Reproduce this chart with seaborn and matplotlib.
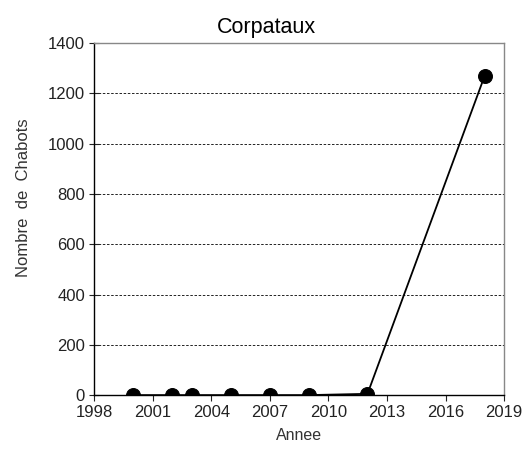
import matplotlib
matplotlib.use("Agg")
import matplotlib.pyplot as plt
import seaborn as sns
import pandas as pd

years = [2000, 2002, 2003, 2005, 2007, 2009, 2012, 2018]
counts = [0, 0, 0, 0, 0, 0, 5, 1270]
x_ticks = [1998, 2001, 2004, 2007, 2010, 2013, 2016, 2019]
y_ticks = [0, 200, 400, 600, 800, 1000, 1200, 1400]

sns.set_theme(style="white")
plt.rcParams['font.family'] = ['Liberation Sans', 'DejaVu Sans']

df = pd.DataFrame({"Annee": years, "Chabots": counts})

fig = plt.figure(figsize=(5.23, 4.5), dpi=100)
ax = fig.add_axes([0.18, 0.122, 0.784, 0.782])

sns.lineplot(data=df, x="Annee", y="Chabots", ax=ax, color="black",
             linewidth=1.3, marker="o", markersize=10, markeredgecolor="black",
             markerfacecolor="black")

ax.set_xlim(1998, 2019)
ax.set_ylim(0, 1400)
ax.set_xticks(x_ticks)
ax.set_yticks(y_ticks)
for yv in y_ticks[1:-1]:
    ax.axhline(yv, color="black", linestyle=(0, (3, 2)), linewidth=0.6, zorder=0)

ax.tick_params(axis="both", labelsize=12, colors="#222222", length=4, width=0.8)
ax.tick_params(axis="y", direction="inout", length=7, pad=3)
ax.tick_params(axis="x", direction="out", pad=3)
ax.tick_params(bottom=True, left=True)

for s in ["left", "bottom"]:
    ax.spines[s].set_color("black")
    ax.spines[s].set_linewidth(1.0)
for s in ["top", "right"]:
    ax.spines[s].set_color("#888888")
    ax.spines[s].set_linewidth(1.0)

ax.set_xlabel("Annee", fontsize=11.5, color="#333333", labelpad=6)
ax.set_ylabel("Nombre  de  Chabots", fontsize=12, color="#333333")
ax.yaxis.set_label_coords(-0.155, 0.56)
ax.set_title("Corpataux", fontsize=15.5, color="black", pad=7, x=0.42)

fig.savefig("out.png", dpi=100)
